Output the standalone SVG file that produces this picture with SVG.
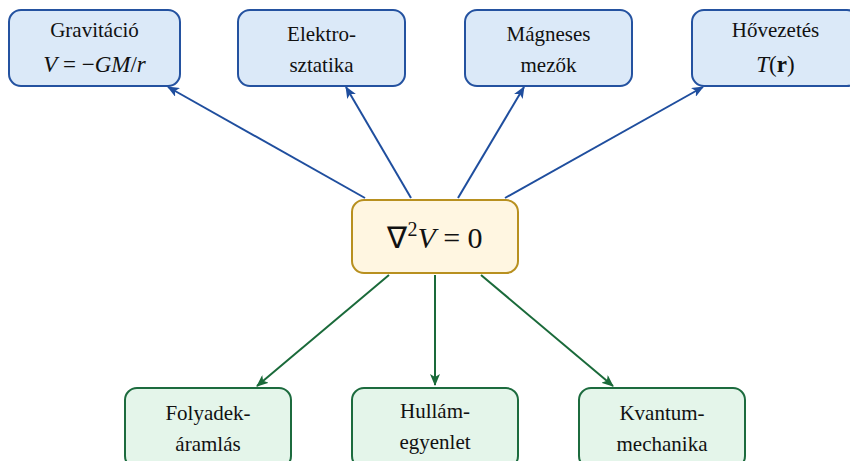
<svg xmlns="http://www.w3.org/2000/svg" width="850" height="461" viewBox="0 0 850 461">
<style>
.b{fill:#dbe9f8;stroke:#2452a0;stroke-width:2}
.g{fill:#e4f5ea;stroke:#1c6b3e;stroke-width:2}
.y{fill:#fff6e1;stroke:#b8901f;stroke-width:2}
</style>
<defs>
<marker id="ab" viewBox="0 0 12 10" refX="11" refY="5" markerWidth="6" markerHeight="5" markerUnits="strokeWidth" orient="auto">
<path d="M0,0 L12,5 L0,10 L3,5 Z" fill="#1f4e9e"/>
</marker>
<marker id="ag" viewBox="0 0 12 10" refX="11" refY="5" markerWidth="6" markerHeight="5" markerUnits="strokeWidth" orient="auto">
<path d="M0,0 L12,5 L0,10 L3,5 Z" fill="#1a6a3a"/>
</marker>
</defs>
<rect width="850" height="461" fill="#fff"/>
<g id="connectors" stroke-width="2" fill="none">
<g stroke="#1f4e9e" marker-end="url(#ab)">
<line x1="365" y1="198" x2="168" y2="87"/>
<line x1="411" y1="198" x2="346" y2="87"/>
<line x1="458" y1="198" x2="524" y2="87"/>
<line x1="505" y1="198" x2="703" y2="87"/>
</g>
<g stroke="#1a6a3a" marker-end="url(#ag)">
<line x1="389" y1="275" x2="257" y2="386"/>
<line x1="435" y1="275" x2="435" y2="385"/>
<line x1="481" y1="275" x2="613" y2="386"/>
</g>
</g>
<g id="center">
<rect class="y" x="352" y="200" width="166" height="73" rx="12"/>
<text font-family="Liberation Serif, serif" fill="#111" text-anchor="middle" x="435" y="248" font-size="30">∇<tspan dy="-12" font-size="20">2</tspan><tspan dy="12" font-style="italic">V</tspan> = 0</text>
</g>
<g id="gravitacio">
<rect class="b" x="9" y="10" width="171" height="76" rx="12"/>
<text font-family="Liberation Serif, serif" fill="#111" font-size="21" text-anchor="middle" x="94.5" y="37">Gravitáció</text>
<text font-family="Liberation Serif, serif" fill="#111" font-size="23" text-anchor="middle" x="94.5" y="72"><tspan font-style="italic">V</tspan> = −<tspan font-style="italic">GM</tspan>/<tspan font-style="italic">r</tspan></text>
</g>
<g id="elektro">
<rect class="b" x="238" y="10" width="167" height="76" rx="12"/>
<text font-family="Liberation Serif, serif" fill="#111" font-size="21" text-anchor="middle" x="321.5" y="41">Elektro-</text>
<text font-family="Liberation Serif, serif" fill="#111" font-size="21" text-anchor="middle" x="321.5" y="72">sztatika</text>
</g>
<g id="magneses">
<rect class="b" x="465" y="10" width="167" height="76" rx="12"/>
<text font-family="Liberation Serif, serif" fill="#111" font-size="21" text-anchor="middle" x="548.5" y="41">Mágneses</text>
<text font-family="Liberation Serif, serif" fill="#111" font-size="21" text-anchor="middle" x="548.5" y="72">mezők</text>
</g>
<g id="hovezetes">
<rect class="b" x="692" y="10" width="167" height="76" rx="12"/>
<text font-family="Liberation Serif, serif" fill="#111" font-size="21" text-anchor="middle" x="775.5" y="37">Hővezetés</text>
<text font-family="Liberation Serif, serif" fill="#111" font-size="23" text-anchor="middle" x="775.5" y="72"><tspan font-style="italic">T</tspan>(<tspan font-weight="bold">r</tspan>)</text>
</g>
<g id="folyadek">
<rect class="g" x="125" y="388" width="166" height="80" rx="12"/>
<text font-family="Liberation Serif, serif" fill="#111" font-size="21" text-anchor="middle" x="208" y="420">Folyadek-</text>
<text font-family="Liberation Serif, serif" fill="#111" font-size="21" text-anchor="middle" x="208" y="451">áramlás</text>
</g>
<g id="hullam">
<rect class="g" x="352" y="388" width="166" height="80" rx="12"/>
<text font-family="Liberation Serif, serif" fill="#111" font-size="21" text-anchor="middle" x="435" y="418">Hullám-</text>
<text font-family="Liberation Serif, serif" fill="#111" font-size="21" text-anchor="middle" x="435" y="449">egyenlet</text>
</g>
<g id="kvantum">
<rect class="g" x="579" y="388" width="166" height="80" rx="12"/>
<text font-family="Liberation Serif, serif" fill="#111" font-size="21" text-anchor="middle" x="662" y="420">Kvantum-</text>
<text font-family="Liberation Serif, serif" fill="#111" font-size="21" text-anchor="middle" x="662" y="451">mechanika</text>
</g>
</svg>
